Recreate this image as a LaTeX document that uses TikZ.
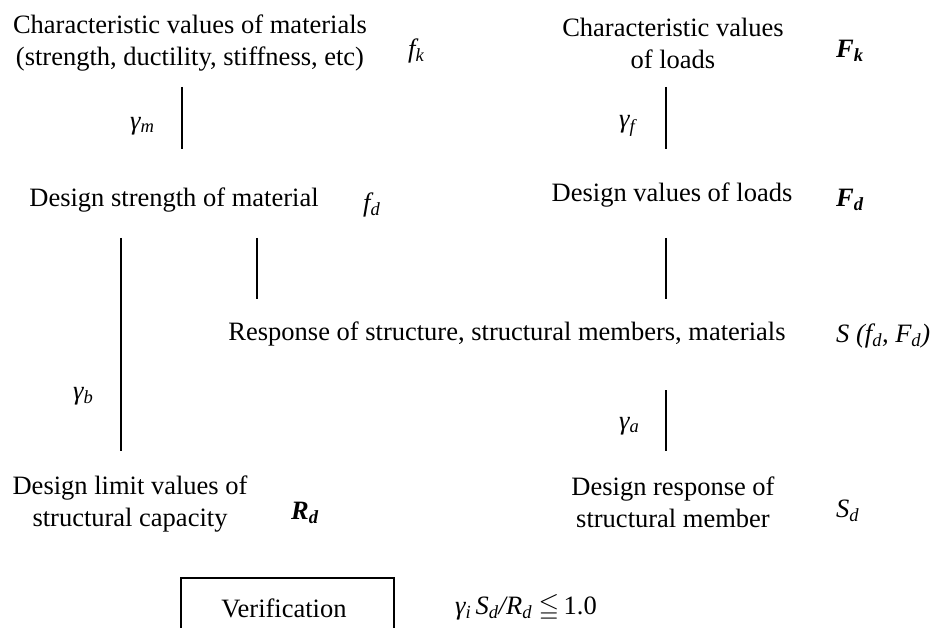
\documentclass[tikz,border=0pt]{standalone}
\usepackage{fontspec}
\usepackage{amssymb}
\setmainfont{Liberation Serif}
\newcommand{\sbx}[1]{\textsubscript{\itshape #1}}
\begin{document}
\begin{tikzpicture}[x=1pt,y=-1pt,
  every node/.style={inner sep=0pt, font=\fontsize{26.5}{32}\selectfont},
  lbl/.style={align=center},
  sym/.style={anchor=west, font=\fontsize{26.5}{32}\selectfont\itshape},
  bsym/.style={anchor=west, font=\fontsize{26.5}{32}\selectfont\itshape\bfseries},
  conn/.style={line width=1.8pt}]
\useasboundingbox (0,0) rectangle (932,628);

% texts
\node[lbl] (cm) at (190,43) {Characteristic values of materials\\(strength, ductility, stiffness, etc)};
\node[sym] (fk) at (408,51) {f\sbx{k}};
\node[lbl] (cl) at (673,43) {Characteristic values\\of loads};
\node[bsym] (Fk) at (836,51) {F\sbx{k}};
\node[sym] (gm) at (130,126) {γ\sbx{m}};
\node[sym] (gf) at (619,126) {γ\sbx{f}};
\node (ds) at (174,200) {Design strength of material};
\node[sym] (fd) at (363,205) {f\sbx{d}};
\node (dl) at (672,195) {Design values of loads};
\node[bsym] (Fd) at (836,200) {F\sbx{d}};
\node (rs) at (507,334) {Response of structure, structural members, materials};
\node[sym] (S) at (836,336) {S (f\sbx{d}, F\sbx{d})};
\node[sym] (gb) at (73,396) {γ\sbx{b}};
\node[sym] (ga) at (619,426) {γ\sbx{a}};
\node[lbl] (dlv) at (130,504) {Design limit values of\\structural capacity};
\node[bsym] (Rd) at (291,513) {R\sbx{d}};
\node[lbl] (dr) at (673,502) {Design response of\\structural member};
\node[sym] (Sd) at (836,511) {S\sbx{d}};
\node (ver) at (284,608) {Verification};
\node[anchor=west] (eq) at (455,608) {\itshape γ\sbx{i}\,S\sbx{d}/R\sbx{d} \upshape$\leqq$\,1.0};

% connector end points
\coordinate (m1) at (182,87);  \coordinate (m2) at (182,149);
\coordinate (f1) at (666,87);  \coordinate (f2) at (666,149);
\coordinate (b1) at (121,238); \coordinate (b2) at (121,451);
\coordinate (s1) at (257,238); \coordinate (s2) at (257,299);
\coordinate (r1) at (666,238); \coordinate (r2) at (666,299);
\coordinate (a1) at (666,390); \coordinate (a2) at (666,451);
\coordinate (v1) at (181,632); \coordinate (v2) at (181,578);
\coordinate (v3) at (394,578); \coordinate (v4) at (394,632);

\draw[conn] (m1) -- (m2);
\draw[conn] (f1) -- (f2);
\draw[conn] (b1) -- (b2);
\draw[conn] (s1) -- (s2);
\draw[conn] (r1) -- (r2);
\draw[conn] (a1) -- (a2);
\draw[line width=1.4pt] (v1) -- (v2) -- (v3) -- (v4);
\end{tikzpicture}
\end{document}
